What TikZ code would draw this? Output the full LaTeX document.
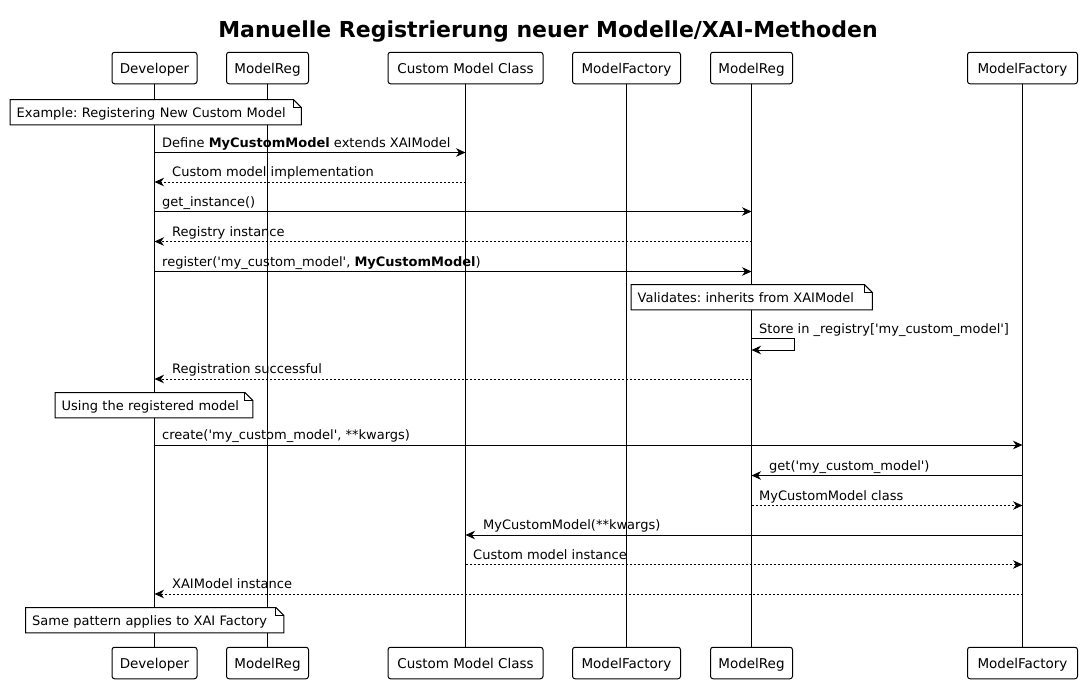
\documentclass[tikz,border=0pt]{standalone}
\usepackage{fontspec}
\setmainfont{DejaVu Sans}
\usetikzlibrary{arrows.meta}
\frenchspacing
\newcommand{\qq}{\textquotesingle}
\newcommand{\notefold}[1]{%
  \draw[noteline] (#1.north west) -- ([xshift=-8pt]#1.north east) -- ([yshift=-8pt]#1.north east) -- (#1.south east) -- (#1.south west) -- cycle;
  \draw[noteline] ([xshift=-8pt]#1.north east) -- ([xshift=-8pt,yshift=-8pt]#1.north east) -- ([yshift=-8pt]#1.north east);}
\begin{document}
\begin{tikzpicture}[x=1pt,y=-1pt,
  part/.style={draw, line width=1pt, rounded corners=2.5pt, fill=white, minimum height=31.5pt, inner sep=0pt, text height=11.5pt, text depth=1pt, font=\fontsize{13.5}{16}\selectfont},
  life/.style={line width=1pt},
  msg/.style={line width=1pt, -{Stealth[length=9.5pt,width=8.5pt,inset=3pt]}},
  ret/.style={msg, dash pattern=on 2pt off 2pt},
  lbl/.style={font=\fontsize{13}{15}\selectfont, inner sep=0pt, anchor=base west},
  note/.style={fill=white, draw=none, anchor=north west, minimum height=25pt, inner xsep=6.5pt, inner ysep=0pt, text height=13pt, text depth=1.5pt, font=\fontsize{13}{15}\selectfont},
  noteline/.style={line width=1pt, line join=miter}
]
\fill[white] (0,0) rectangle (1082,683);
\path[use as bounding box] (0,0) rectangle (1082,683);

\node[font=\bfseries\fontsize{22}{26}\selectfont, inner sep=0pt, anchor=base] (title) at (548,37) {Manuelle Registrierung neuer Modelle/XAI-Methoden};

% participants
\node[part, minimum width=85pt]  (devT) at (154.5,68) {Developer};
\node[part, minimum width=82pt]  (mr1T) at (267.5,68) {ModelReg};
\node[part, minimum width=155pt] (cmcT) at (465.5,68) {Custom Model Class};
\node[part, minimum width=108pt] (mf1T) at (626.5,68) {ModelFactory};
\node[part, minimum width=82pt]  (mr2T) at (751.5,68) {ModelReg};
\node[part, minimum width=110pt] (mf2T) at (1022.5,68) {ModelFactory};

\node[part, minimum width=85pt]  (devB) at (154.5,663) {Developer};
\node[part, minimum width=82pt]  (mr1B) at (267.5,663) {ModelReg};
\node[part, minimum width=155pt] (cmcB) at (465.5,663) {Custom Model Class};
\node[part, minimum width=108pt] (mf1B) at (626.5,663) {ModelFactory};
\node[part, minimum width=82pt]  (mr2B) at (751.5,663) {ModelReg};
\node[part, minimum width=110pt] (mf2B) at (1022.5,663) {ModelFactory};

\foreach \p in {dev,mr1,cmc,mf1,mr2,mf2}{\draw[life] (\p T.south) -- (\p B.north);}

% row coordinates
\coordinate (r1) at (0,152.5);
\coordinate (r2) at (0,182);
\coordinate (r3) at (0,211.5);
\coordinate (r4) at (0,241.5);
\coordinate (r5) at (0,271.5);
\coordinate (r7a) at (0,338);
\coordinate (r7b) at (0,350);
\coordinate (r8) at (0,379);
\coordinate (r10) at (0,445);
\coordinate (r11) at (0,475.5);
\coordinate (r12) at (0,505.5);
\coordinate (r13) at (0,535);
\coordinate (r14) at (0,564.5);
\coordinate (r15) at (0,594);

% note 1
\node[note, minimum width=291pt, text width=278pt] (n1) at (10,99.5) {Example: Registering New Custom Model};
\notefold{n1}

% messages
\draw[msg] (devT |- r1) -- (cmcT |- r1);
\node[lbl] (l1) at (162,147) {Define \textbf{MyCustomModel} extends XAIModel};
\draw[ret] (cmcT |- r2) -- (devT |- r2);
\node[lbl] (l2) at (172,176.5) {Custom model implementation};
\draw[msg] (devT |- r3) -- (mr2T |- r3);
\node[lbl] (l3) at (162,206) {get\_instance()};
\draw[ret] (mr2T |- r4) -- (devT |- r4);
\node[lbl] (l4) at (172,236) {Registry instance};
\draw[msg] (devT |- r5) -- (mr2T |- r5);
\node[lbl] (l5) at (162,266) {register(\qq my\_custom\_model\qq, \textbf{MyCustomModel})};

% note 2
\node[note, minimum width=241pt, text width=228pt] (n2) at (631,284.5) {Validates: inherits from XAIModel};
\notefold{n2}

% self message
\draw[msg] (mr2T |- r7a) -- ++(43,0) -- ++(0,12) -- (mr2T |- r7b);
\node[lbl] (l7) at (759,333.5) {Store in \_registry[\qq my\_custom\_model\qq]};

\draw[ret] (mr2T |- r8) -- (devT |- r8);
\node[lbl] (l8) at (172,373.5) {Registration successful};

% note 3
\node[note, minimum width=197.5pt, text width=184.5pt] (n3) at (55,392.5) {Using the registered model};
\notefold{n3}

\draw[msg] (devT |- r10) -- (mf2T |- r10);
\node[lbl] (l10) at (162,439.5) {create(\qq my\_custom\_model\qq, **kwargs)};
\draw[msg] (mf2T |- r11) -- (mr2T |- r11);
\node[lbl] (l11) at (769,470) {get(\qq my\_custom\_model\qq)};
\draw[ret] (mr2T |- r12) -- (mf2T |- r12);
\node[lbl] (l12) at (759,500) {MyCustomModel class};
\draw[msg] (mf2T |- r13) -- (cmcT |- r13);
\node[lbl] (l13) at (483,529.5) {MyCustomModel(**kwargs)};
\draw[ret] (cmcT |- r14) -- (mf2T |- r14);
\node[lbl] (l14) at (473,559) {Custom model instance};
\draw[ret] (mf2T |- r15) -- (devT |- r15);
\node[lbl] (l15) at (172,588.5) {XAIModel instance};

% note 4
\node[note, minimum width=258pt, text width=245pt] (n4) at (25.5,607.5) {Same pattern applies to XAI Factory};
\notefold{n4}
\end{tikzpicture}
\end{document}
